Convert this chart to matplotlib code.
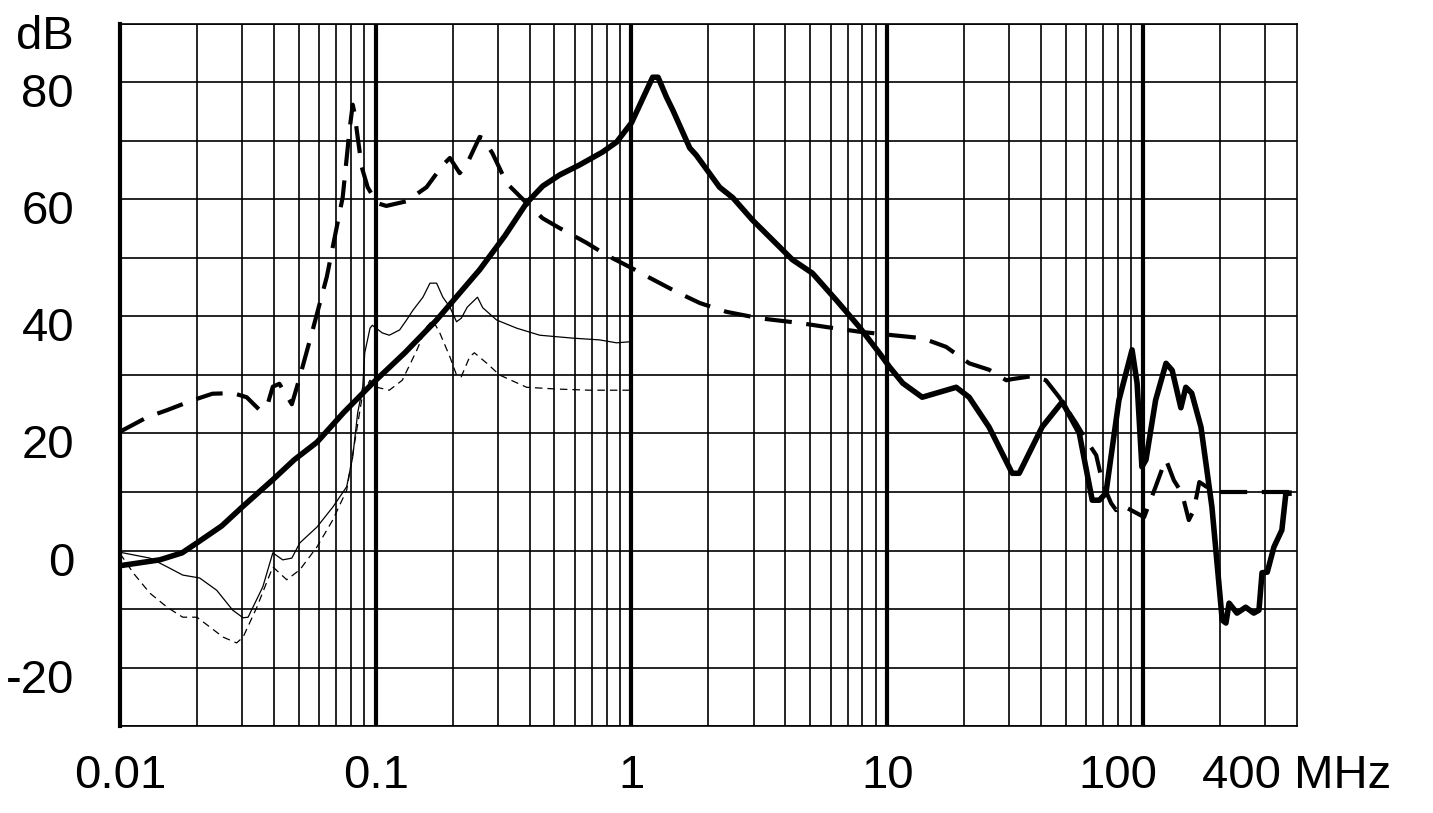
import matplotlib
matplotlib.use("Agg")
import matplotlib.pyplot as plt
from matplotlib.transforms import ScaledTranslation

plt.rcParams['font.family'] = ['Liberation Sans', 'DejaVu Sans']

# bold solid curve
solid_f = [0.01, 0.0143, 0.0175, 0.02, 0.025, 0.030, 0.0396, 0.048, 0.0589, 0.075, 0.0973,
           0.13, 0.173, 0.255, 0.32, 0.389, 0.45,
           0.524, 0.626, 0.77, 0.874, 1.0, 1.10, 1.21, 1.27, 1.37, 1.45, 1.69, 1.79,
           2.21, 2.49, 2.97, 4.26, 5.1, 6.32, 7.78, 9.3, 10.2, 11.5, 13.7, 18.6, 20.9,
           25, 30.8, 32.8, 40.3, 48.3, 56.3, 63.3, 67.5, 71.6, 80.5, 90.6, 94.8, 99,
           102.7, 112, 123, 130, 140.6, 147, 155, 168.5, 186, 204, 211, 217, 233, 252,
           271, 284, 292, 306, 325, 349, 362, 372]
solid_db = [-2.6, -1.6, -0.4, 1.3, 4.2, 7.4, 12.1, 15.5, 18.5, 23.6, 28.6,
            33.8, 39.4, 48, 53.8, 59.4, 62.3,
            64.2, 65.9, 68.1, 69.8, 73.1, 77, 80.9, 80.9, 77.5, 75.3, 68.8, 67.6,
            62.1, 60.3, 56.5, 49.7, 47.4, 42.8, 38.2, 33.8, 31.4, 28.6, 26.2, 27.9, 26.2,
            21.1, 13.2, 13.2, 21.1, 25.4, 20.1, 8.6, 8.6, 9.8, 25.7, 34.3, 28.6, 14.3,
            15.5, 25.7, 32, 30.8, 24.4, 27.9, 26.9, 21.1, 7.4, -11.9, -12.4, -9, -10.7, -9.7,
            -10.7, -10.2, -3.8, -3.7, 0.6, 3.5, 9.8, 9.8]

# bold dashed curve
dash_f = [0.01, 0.0128, 0.0153, 0.0193, 0.023, 0.0277, 0.0313, 0.0352, 0.0375, 0.0396,
          0.042, 0.047, 0.05, 0.0567, 0.0644, 0.0743, 0.079, 0.0813, 0.0826, 0.085,
          0.0881, 0.093, 0.101, 0.11, 0.132, 0.158, 0.183, 0.195, 0.213, 0.228, 0.255,
          0.262, 0.286, 0.325, 0.389, 0.449, 0.524, 0.667, 0.798, 1.0, 1.18, 1.5, 1.85,
          2.35, 3.16, 4.53, 5.78, 7.78, 10.5, 13.7, 17, 20.9, 25, 29.2, 30.8, 36.8, 41.7,
          47, 54.7, 59.9, 65.6, 69.5, 75, 78.5, 82, 89.8, 101, 112, 121, 123, 132, 142,
          151, 158, 166, 177, 186, 198, 400]
dash_db = [20.3, 22.8, 24, 25.7, 26.8, 26.9, 26.2, 24, 24.5, 28,
           28.5, 25, 29, 37.7, 46.8, 60.4, 71.9, 76.2, 74.8, 70.7,
           65.6, 62.1, 59.4, 58.9, 59.7, 62.1, 65.9, 67.1, 64.5, 66.2, 70.7,
           70.5, 67.9, 62.8, 59.4, 56.8, 55.1, 52.6, 50.5, 48.3, 46.6, 44.2, 42.3,
           40.8, 39.7, 38.9, 38.2, 37.4, 36.8, 36.3, 34.8, 32, 30.9, 29.1, 29.3, 29.8, 29.1,
           26.2, 21.8, 18.9, 16.3, 11.5, 8.1, 6.9, 7.8, 6.9, 5.7, 10.9, 14.9, 15.5, 12, 9.8,
           5.2, 6.9, 11.7, 10.9, 10.9, 10, 10]

# thin solid curve
thin_f = [0.01, 0.0131, 0.0153, 0.0176, 0.0205, 0.0239, 0.0276, 0.0303, 0.0317, 0.0362,
          0.0396, 0.0433, 0.047, 0.0505, 0.0589, 0.0679, 0.077, 0.0813, 0.085, 0.089,
          0.0906, 0.095, 0.097, 0.106, 0.113, 0.124, 0.132, 0.14, 0.153, 0.163, 0.173,
          0.183, 0.195, 0.207, 0.216, 0.228, 0.25, 0.262, 0.297, 0.356, 0.438, 0.589,
          0.75, 0.874, 1.0]
thin_db = [-0.3, -1.3, -2.8, -4.2, -4.7, -6.8, -10.2, -11.5, -11.4, -6.2,
           -0.4, -1.6, -1.3, 1.3, 4, 7.4, 10.9, 16, 23.5, 28,
           33.8, 38, 38.5, 37.2, 36.8, 37.7, 39.4, 41.1, 43.3, 45.7, 45.7,
           43.3, 41.6, 39.1, 39.7, 41.6, 43.3, 41.5, 39.4, 38, 36.8, 36.3,
           36, 35.5, 35.7]

# thin dashed curve
thind_f = [0.01, 0.0113, 0.0131, 0.0153, 0.0176, 0.02, 0.0225, 0.0253, 0.0286, 0.0303,
           0.0343, 0.0396, 0.0449, 0.0505, 0.0589, 0.0679, 0.077, 0.0843, 0.089, 0.095,
           0.101, 0.113, 0.127, 0.145, 0.158, 0.167, 0.178, 0.195, 0.207, 0.216, 0.233,
           0.243, 0.272, 0.305, 0.389, 0.509, 0.686, 1.0]
thind_db = [-0.5, -3.9, -7.3, -9.7, -11.4, -11.4, -13.1, -14.8, -15.8, -14.8,
            -9.7, -2.8, -5, -3.3, 0.6, 5.2, 10.3, 20.6, 26.9, 29.1,
            27.9, 27.4, 29.1, 34.3, 38.2, 39.4, 37.2, 33.1, 30, 29.7, 33.1,
            33.8, 32, 30, 27.9, 27.6, 27.4, 27.4]

decades = [0.01, 0.1, 1, 10, 100]
decade_labels = ["0.01", "0.1", "1", "10", "100"]
y_ticks = [-20, 0, 20, 40, 60, 80, 90]
y_labels = ["-20", "0", "20", "40", "60", "80", "dB"]

fig = plt.figure(figsize=(14.33, 8.13), dpi=100)
ax = fig.add_axes([0.0837, 0.107, 0.8214, 0.8635])
ax.set_xscale('log')
ax.set_xlim(0.01, 400)
ax.set_ylim(-30, 90)

# grid
minor = [m * d for d in decades[:-1] for m in range(2, 10)] + [200, 300]
for x in minor:
    ax.axvline(x, color='black', lw=1.2, zorder=1)
for x in decades[1:]:
    ax.axvline(x, color='black', lw=3, zorder=1)
for y in range(-30, 91, 10):
    ax.axhline(y, color='black', lw=1.2, zorder=1)

ax.plot(thin_f, thin_db, color='black', lw=0.9, zorder=3)
ax.plot(thind_f, thind_db, color='black', lw=0.9, dashes=(6, 4), zorder=3)
ax.plot(dash_f, dash_db, color='black', lw=3, dashes=(6.5, 3.5), zorder=4)
ax.plot(solid_f, solid_db, color='black', lw=4, zorder=5, solid_joinstyle='round')

for side in ['top', 'right', 'bottom']:
    ax.spines[side].set_linewidth(1.2)
ax.spines['left'].set_linewidth(3)

ax.set_xticks(decades)
ax.set_xticklabels(decade_labels)
ax.set_xticks([], minor=True)
ax.set_yticks(y_ticks)
ax.set_yticklabels(y_labels)
ax.tick_params(axis='both', length=0, labelsize=34)
ax.tick_params(axis='x', pad=20)
ax.tick_params(axis='y', pad=33)

for lab in ax.get_yticklabels():
    lab.set_transform(lab.get_transform() + ScaledTranslation(0, -0.08, fig.dpi_scale_trans))
xl = ax.get_xticklabels()
xl[-1].set_transform(xl[-1].get_transform() + ScaledTranslation(-0.25, 0, fig.dpi_scale_trans))

ax.text(400, -30, "400 MHz", fontsize=34, ha='center', va='top',
        transform=ax.transData + ScaledTranslation(0, -0.28, fig.dpi_scale_trans))

fig.savefig("out.png", dpi=100)
